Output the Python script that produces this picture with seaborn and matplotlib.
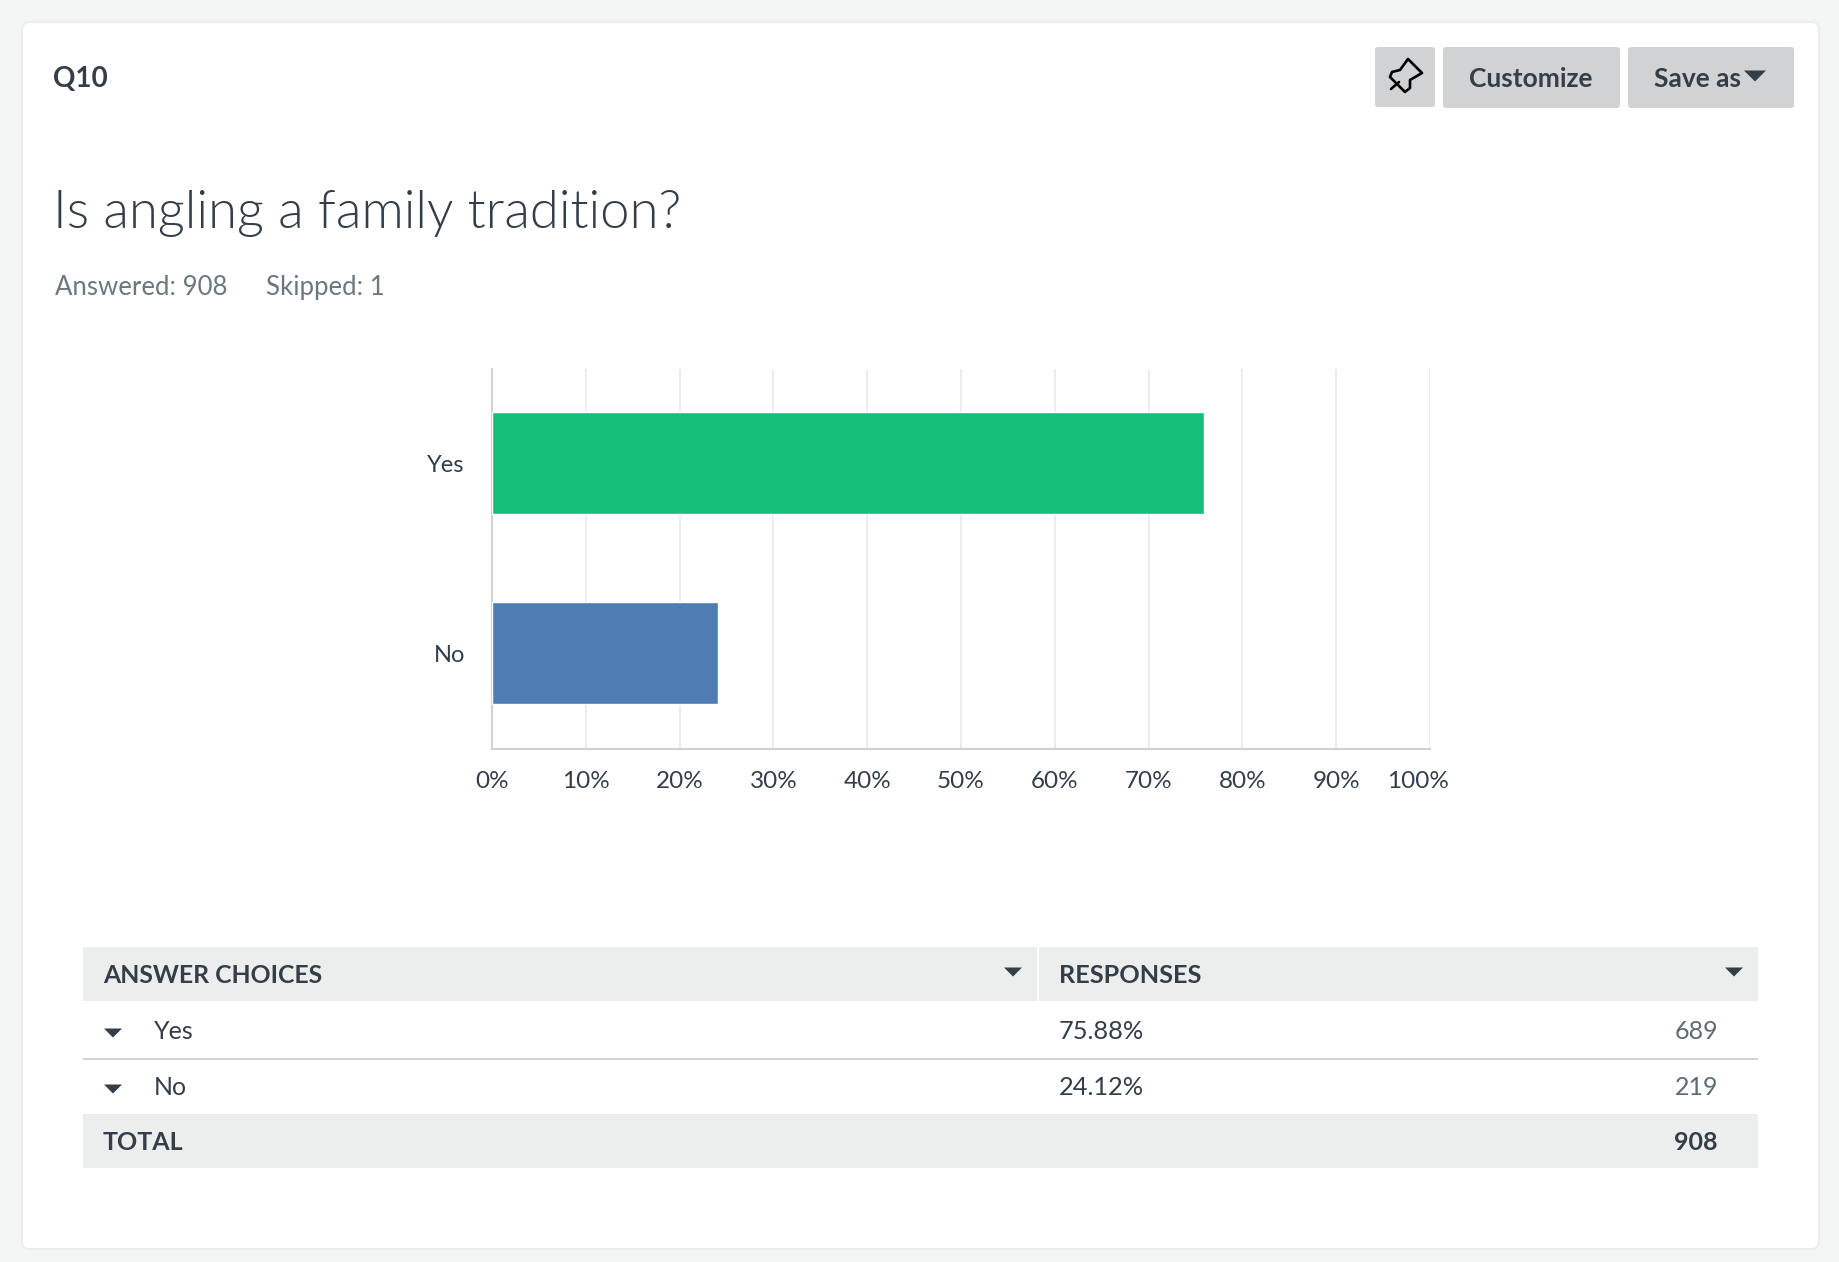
import matplotlib
matplotlib.use('Agg')
import matplotlib.pyplot as plt
from matplotlib.patches import FancyBboxPatch, Polygon, Rectangle
from matplotlib.transforms import ScaledTranslation
import pandas as pd
import seaborn as sns

choices = ['Yes', 'No']
percents = [75.88, 24.12]
counts = [689, 219]
bar_colors = ['#15BF79', '#507CB4']
x_ticks = [0, 10, 20, 30, 40, 50, 60, 70, 80, 90, 100]
question_id = 'Q10'
question = 'Is angling a family tradition?'
answered = 908
skipped = 1

W, H = 1840, 1262
TEXT = '#333E48'
GREY = '#D0D2D3'
BAND = '#ECEEEE'

sns.set_style('white')
plt.rcParams['font.family'] = ['Lato', 'DejaVu Sans']

fig = plt.figure(figsize=(W / 100, H / 100), dpi=100, facecolor='#F4F6F5')

# page furniture is laid out in pixels, same as the screenshot
page = fig.add_axes([0, 0, 1, 1], zorder=0)
page.set_xlim(0, W)
page.set_ylim(H, 0)
page.axis('off')


def box(x0, y0, x1, y1, color, radius=3, edge='none', z=1):
    page.add_patch(FancyBboxPatch((x0 + radius, y0 + radius), x1 - x0 - 2 * radius, y1 - y0 - 2 * radius,
                                  boxstyle=f'round,pad={radius},rounding_size={radius}',
                                  facecolor=color, edgecolor=edge, linewidth=1.5, zorder=z))


def band(x0, y0, x1, y1, color):
    page.add_patch(Rectangle((x0, y0), x1 - x0, y1 - y0, facecolor=color, edgecolor='none', zorder=2))


def arrow(cx, cy, w=18, h=9):
    page.add_patch(Polygon([(cx - w / 2, cy - h / 2), (cx + w / 2, cy - h / 2), (cx, cy + h / 2)],
                           closed=True, facecolor=TEXT, edgecolor='none', zorder=3))


def label(x, y, s, size, weight='normal', color=TEXT, ha='left'):
    page.text(x, y, s, fontsize=size, fontweight=weight, color=color, ha=ha, va='baseline', zorder=4)


box(22, 22, 1819, 1249, 'white', radius=8, edge='#ECEEEE')

# header and buttons
label(53, 87, question_id, 20, weight='bold')
label(53, 228, question, 37.9, weight=300)
label(55, 295, f'Answered: {answered}', 18.5, color='#6B787F')
label(266, 295, f'Skipped: {skipped}', 18.5, color='#6B787F')

box(1375, 47, 1435, 107, GREY)
box(1443, 47, 1620, 108, GREY)
box(1628, 47, 1794, 108, GREY)
label(1531, 87, 'Customize', 19, weight='bold', ha='center')
label(1654, 87, 'Save as', 19, weight='bold')
arrow(1755, 76, w=22, h=11)

pin = [(1408, 59), (1422, 73), (1410, 80), (1410, 88), (1405, 92), (1390, 77), (1392, 72), (1400, 70)]
page.add_patch(Polygon(pin, closed=True, facecolor='none', edgecolor='black', linewidth=1.9,
                       joinstyle='round', zorder=4))
page.plot([1391, 1399], [89, 82], color='black', linewidth=1.9, solid_capstyle='round', zorder=4)

# table under the chart
band(83, 947, 1037, 1001, BAND)
band(1039, 947, 1758, 1001, BAND)
band(83, 1058, 1758, 1060, GREY)
band(83, 1114, 1758, 1168, BAND)
label(103, 983, 'ANSWER CHOICES', 17.8, weight='bold')
label(1059, 983, 'RESPONSES', 18.2, weight='bold')
arrow(1013, 972)
arrow(1734, 972)

row_baselines = [1039, 1095]
for baseline, choice, pct, count in zip(row_baselines, choices, percents, counts):
    arrow(113, baseline - 6)
    label(154, baseline, choice, 18)
    label(1059, baseline, f'{pct:.2f}%', 18.3)
    label(1718, baseline, str(count), 18, color='#5F6B73', ha='right')

label(103, 1150, 'TOTAL', 18, weight='bold')
label(1718, 1150, str(sum(counts)), 18, weight='bold', ha='right')

# the chart itself
df = pd.DataFrame({'choice': choices, 'percent': percents})
ax = fig.add_axes([492 / W, 1 - 749 / H, (1430 - 492) / W, (749 - 369) / H], zorder=1)
ax.patch.set_alpha(0)
sns.barplot(data=df, x='percent', y='choice', hue='choice', palette=bar_colors, dodge=False,
            width=0.533, saturation=1, legend=False, ax=ax, zorder=3)
ax.set_xlim(0, 100)
ax.set_ylim(1.505, -0.495)
ax.set_xlabel('')
ax.set_ylabel('')
ax.set_xticks(x_ticks)
ax.set_xticklabels([f'{t}%' for t in x_ticks])
ax.grid(axis='x', color='#ECEDED', linewidth=1.5, zorder=0)
ax.set_axisbelow(True)
ax.tick_params(axis='x', length=0, pad=16, labelsize=17.5, labelcolor=TEXT)
ax.tick_params(axis='y', length=0, pad=19.5, labelsize=17, labelcolor=TEXT)
sns.despine(ax=ax, top=True, right=True)
for side in ['left', 'bottom']:
    ax.spines[side].set_color(GREY)
    ax.spines[side].set_linewidth(1.5)
ax.spines['bottom'].set_zorder(4)

# last tick label sits a bit inside its gridline in the original
last = ax.get_xticklabels()[-1]
last.set_transform(last.get_transform() + ScaledTranslation(-12 / 100, 0, fig.dpi_scale_trans))

fig.savefig('out.png', dpi=100, facecolor=fig.get_facecolor())
